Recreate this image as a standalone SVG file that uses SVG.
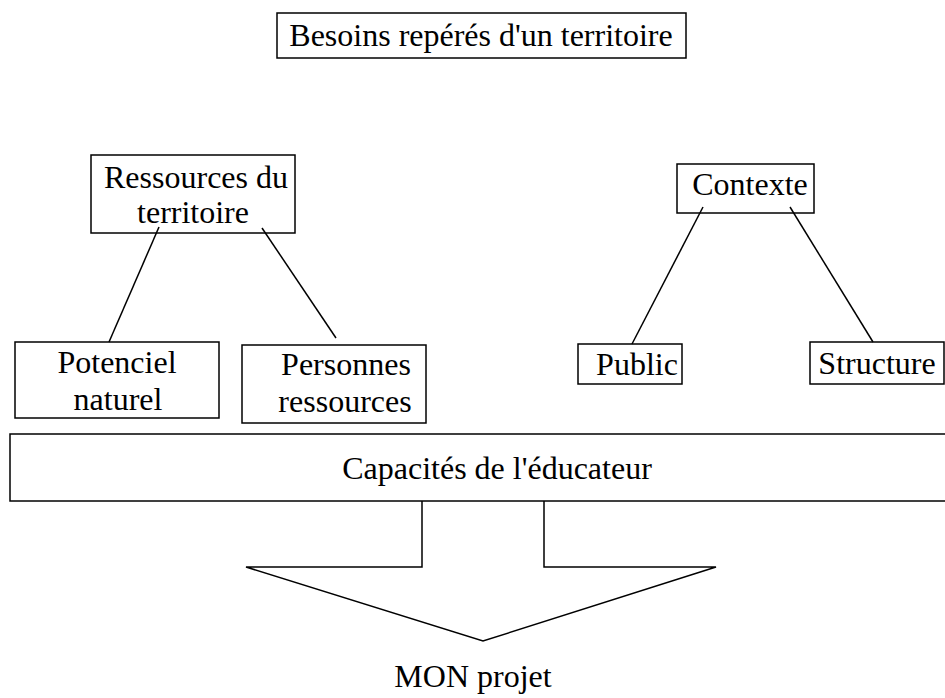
<svg xmlns="http://www.w3.org/2000/svg" width="945" height="698" viewBox="0 0 945 698">
<style>
  .box { fill: #fff; stroke: #000; stroke-width: 1.5; }
  .t { font-family: "Liberation Serif", "Times New Roman", serif; font-size: 32px; fill: #000; text-anchor: middle; }
  .ln { stroke: #000; stroke-width: 1.5; fill: none; }
</style>
<rect x="0" y="0" width="945" height="698" fill="#fff"/>
<g id="besoins">
  <rect class="box" x="277" y="13" width="409" height="45"/>
  <text class="t" x="481" y="46">Besoins repérés d'un territoire</text>
</g>
<g id="ressources">
  <rect class="box" x="91" y="155" width="204" height="78"/>
  <text class="t" x="196" y="188">Ressources du</text>
  <text class="t" x="193" y="223">territoire</text>
</g>
<g id="potenciel">
  <rect class="box" x="15" y="342" width="204" height="76"/>
  <text class="t" x="117" y="373">Potenciel</text>
  <text class="t" x="118" y="410">naturel</text>
</g>
<g id="personnes">
  <rect class="box" x="242" y="345" width="184" height="78"/>
  <text class="t" x="346" y="375">Personnes</text>
  <text class="t" x="345" y="412">ressources</text>
</g>
<g id="contexte">
  <rect class="box" x="677" y="164" width="137" height="49"/>
  <text class="t" x="750" y="195">Contexte</text>
</g>
<g id="public">
  <rect class="box" x="578" y="344" width="104" height="40"/>
  <text class="t" x="637" y="375">Public</text>
</g>
<g id="structure">
  <rect class="box" x="810" y="342" width="134" height="42"/>
  <text class="t" x="877" y="374">Structure</text>
</g>
<g id="capacites">
  <rect class="box" x="10" y="434" width="945" height="67"/>
  <text class="t" x="497" y="479">Capacités de l'éducateur</text>
</g>
<g id="fleche">
  <path class="ln" d="M422,501 V567 H246 L483,641 L716,567 H544 V501"/>
</g>
<g id="projet">
  <text class="t" x="473" y="687">MON projet</text>
</g>
<g id="connectors">
  <line class="ln" x1="159" y1="227" x2="109" y2="342"/>
  <line class="ln" x1="262" y1="228" x2="336" y2="338"/>
  <line class="ln" x1="703" y1="207" x2="632" y2="344"/>
  <line class="ln" x1="790" y1="207" x2="873" y2="342"/>
</g>
</svg>
